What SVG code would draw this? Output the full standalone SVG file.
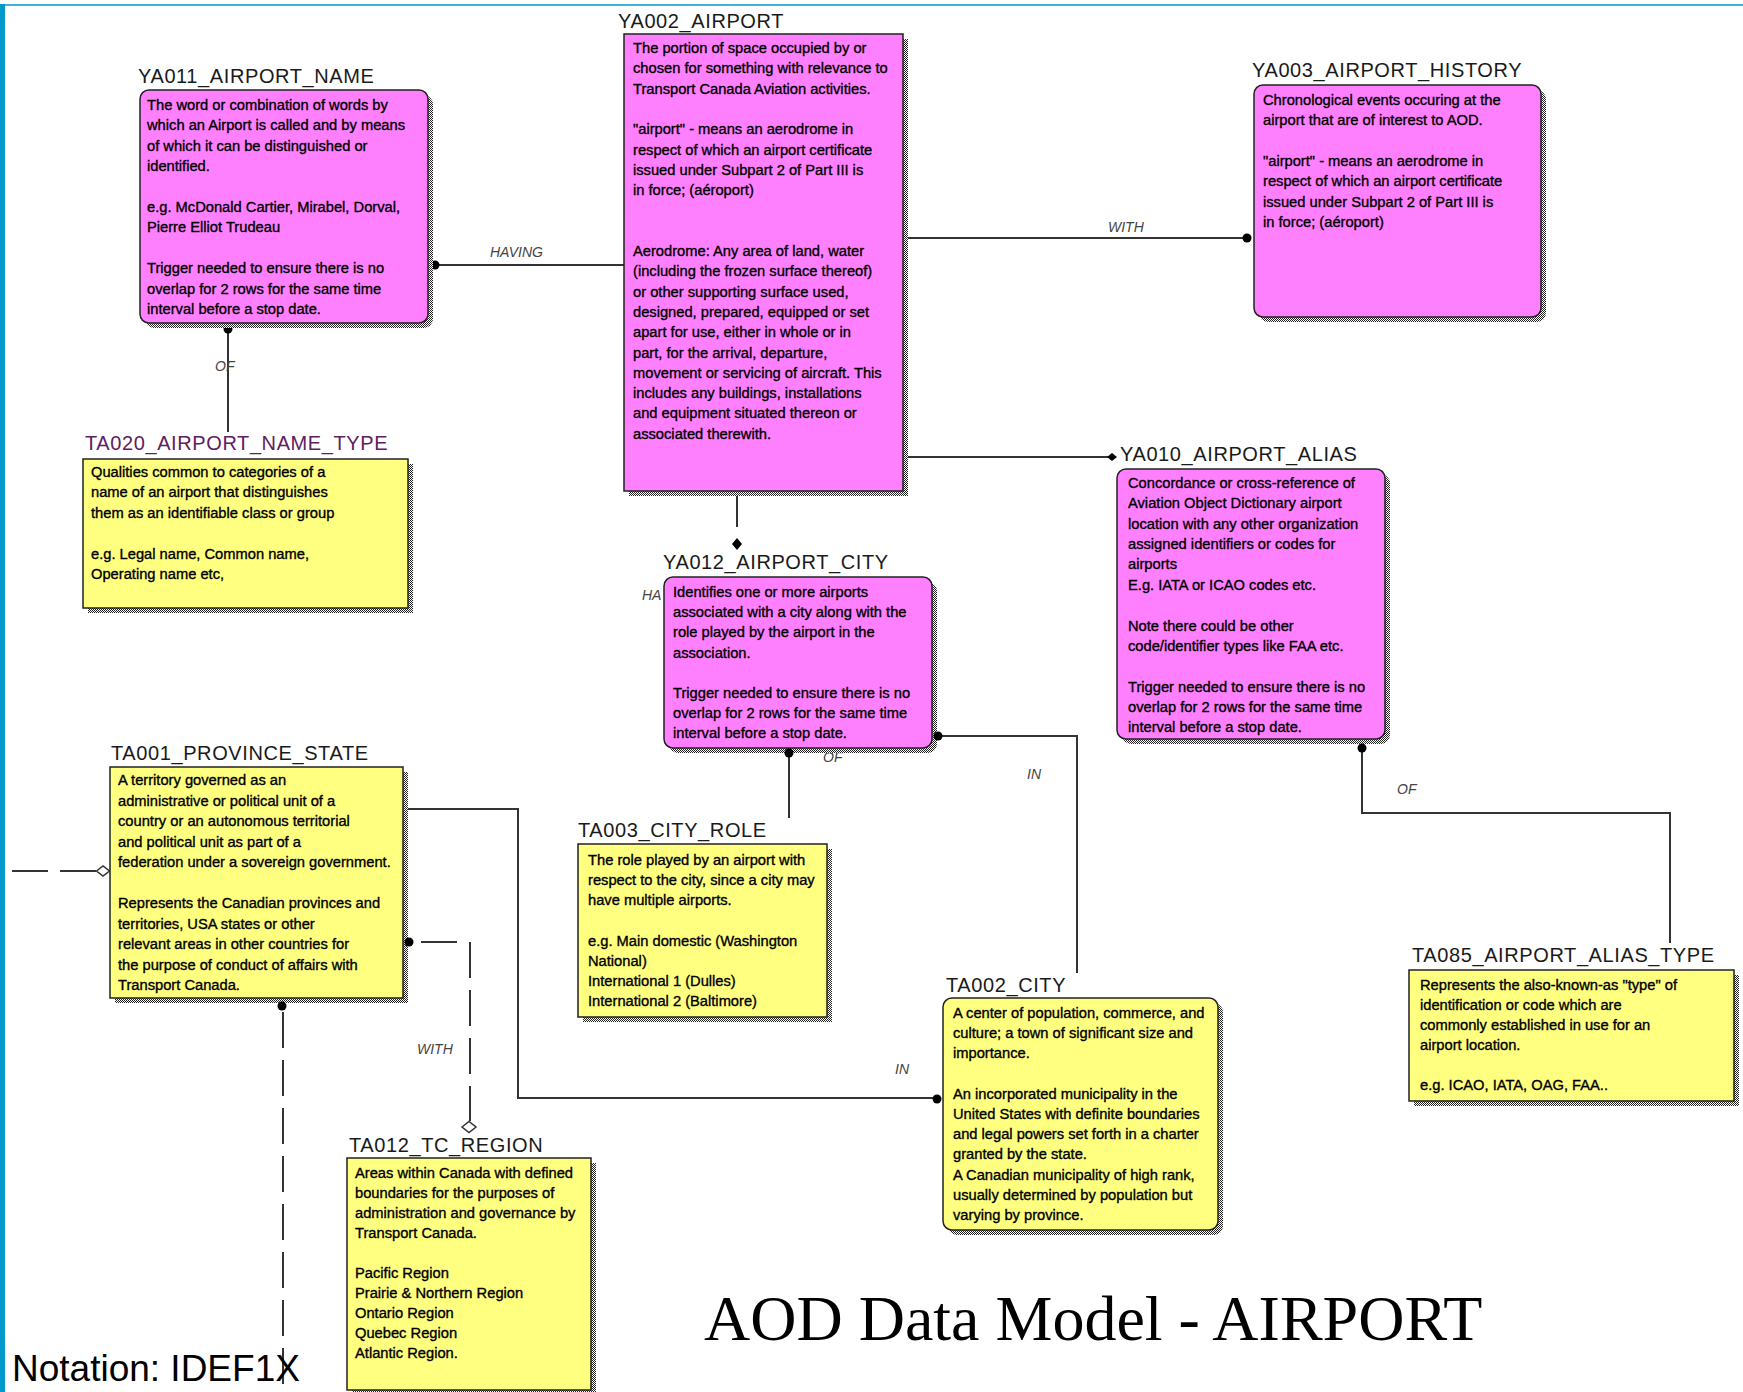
<svg xmlns="http://www.w3.org/2000/svg" width="1743" height="1392" viewBox="0 0 1743 1392">
<defs>
<pattern id="dither" width="2" height="2" patternUnits="userSpaceOnUse">
<rect width="2" height="2" fill="#ffffff"/>
<rect width="1" height="1" fill="#222"/>
<rect x="1" y="1" width="1" height="1" fill="#222"/>
</pattern>
<style>
.t{font-family:"Liberation Sans",Arial,sans-serif;font-size:14.7px;fill:#000;stroke:#000;stroke-width:0.35px}
.h{font-family:"Liberation Sans",Arial,sans-serif;font-size:20px;letter-spacing:0.6px;fill:#1a1a1a}
.hp{fill:#602060}
.l{font-family:"Liberation Sans",Arial,sans-serif;font-size:14px;font-style:italic;fill:#444}
.sh{fill:url(#dither)}
.mag{fill:#ff80ff;stroke:#222;stroke-width:1.5}
.yel{fill:#ffff80;stroke:#222;stroke-width:1.5}
.c{fill:none;stroke:#333;stroke-width:2}
.d{fill:none;stroke:#333;stroke-width:2;stroke-dasharray:36 12}
.dot{fill:#000}
.hol{fill:#fff;stroke:#333;stroke-width:1.5}
</style>
</defs>
<rect width="1743" height="1392" fill="#ffffff"/>
<line x1="0" y1="5" x2="1743" y2="5" stroke="#0099cc" stroke-width="1.5"/>
<rect x="0" y="4" width="5" height="1388" fill="#0099cc"/>

<g id="connectors">
<path class="c" d="M435 265 H624"/>
<circle class="dot" cx="435" cy="265" r="4.5"/>
<text class="l" x="490" y="257">HAVING</text>

<path class="c" d="M228 329 V432"/>
<circle class="dot" cx="228" cy="329" r="4.5"/>
<text class="l" x="215" y="371">OF</text>

<path class="c" d="M903 238 H1247"/>
<circle class="dot" cx="1247" cy="238" r="4.5"/>
<text class="l" x="1108" y="232">WITH</text>

<path class="c" d="M903 457 H1108"/>
<path class="dot" d="M1107 457 L1112 453 L1117 457 L1112 461 Z"/>

<path class="c" d="M737 491 V527"/>
<path class="dot" d="M732 544 L737 538 L742 544 L737 550 Z"/>
<text class="l" x="642" y="600">HA</text>

<path class="c" d="M789 753 V818"/>
<text class="l" x="823" y="762">OF</text>

<path class="c" d="M938 736 H1077 V973"/>
<text class="l" x="1027" y="779">IN</text>

<path class="c" d="M1362 748 V813 H1670 V943"/>
<text class="l" x="1397" y="794">OF</text>

<path class="c" d="M403 809 H518 V1098 H937"/>
<text class="l" x="895" y="1074">IN</text>

<path class="c" d="M421 942 H457"/>
<path class="d" d="M470 942 V1121"/>
<path class="hol" d="M462 1127 L469 1121.5 L476 1127 L469 1132.5 Z"/>
<text class="l" x="417" y="1054">WITH</text>

<path class="d" d="M12 871 H96"/>
<path class="hol" d="M96.5 871 L103 866 L109.5 871 L103 876 Z"/>

<path class="d" d="M283 1012 V1392"/>
</g>

<g id="YA011_AIRPORT_NAME">
<rect class="sh" x="145" y="95" width="288" height="233" rx="9"/>
<rect class="mag" x="140" y="90" width="288" height="233" rx="9"/>
<text class="h" x="138" y="83">YA011_AIRPORT_NAME</text>
<text class="t">
<tspan x="147" y="110">The word or combination of words by</tspan>
<tspan x="147" y="130.4">which an Airport is called and by means</tspan>
<tspan x="147" y="150.8">of which it can be distinguished or</tspan>
<tspan x="147" y="171.2">identified.</tspan>
<tspan x="147" y="212">e.g. McDonald Cartier, Mirabel, Dorval,</tspan>
<tspan x="147" y="232.4">Pierre Elliot Trudeau</tspan>
<tspan x="147" y="273.2">Trigger needed to ensure there is no</tspan>
<tspan x="147" y="293.6">overlap for 2 rows for the same time</tspan>
<tspan x="147" y="314">interval before a stop date.</tspan>
</text>
</g>

<g id="YA002_AIRPORT">
<rect class="sh" x="629" y="39" width="279" height="457"/>
<rect class="mag" x="624" y="34" width="279" height="457"/>
<text class="h" x="618" y="28">YA002_AIRPORT</text>
<text class="t">
<tspan x="633" y="53">The portion of space occupied by or</tspan>
<tspan x="633" y="73.3">chosen for something with relevance to</tspan>
<tspan x="633" y="93.6">Transport Canada Aviation activities.</tspan>
<tspan x="633" y="134.2">&quot;airport&quot; - means an aerodrome in</tspan>
<tspan x="633" y="154.5">respect of which an airport certificate</tspan>
<tspan x="633" y="174.8">issued under Subpart 2 of Part III is</tspan>
<tspan x="633" y="195.1">in force; (aéroport)</tspan>
<tspan x="633" y="256">Aerodrome: Any area of land, water</tspan>
<tspan x="633" y="276.3">(including the frozen surface thereof)</tspan>
<tspan x="633" y="296.6">or other supporting surface used,</tspan>
<tspan x="633" y="316.9">designed, prepared, equipped or set</tspan>
<tspan x="633" y="337.2">apart for use, either in whole or in</tspan>
<tspan x="633" y="357.5">part, for the arrival, departure,</tspan>
<tspan x="633" y="377.8">movement or servicing of aircraft. This</tspan>
<tspan x="633" y="398.1">includes any buildings, installations</tspan>
<tspan x="633" y="418.4">and equipment situated thereon or</tspan>
<tspan x="633" y="438.7">associated therewith.</tspan>
</text>
</g>

<g id="YA003_AIRPORT_HISTORY">
<rect class="sh" x="1259" y="90" width="287" height="232" rx="9"/>
<rect class="mag" x="1254" y="85" width="287" height="232" rx="9"/>
<text class="h" x="1252" y="77">YA003_AIRPORT_HISTORY</text>
<text class="t">
<tspan x="1263" y="105">Chronological events occuring at the</tspan>
<tspan x="1263" y="125.3">airport that are of interest to AOD.</tspan>
<tspan x="1263" y="165.9">&quot;airport&quot; - means an aerodrome in</tspan>
<tspan x="1263" y="186.2">respect of which an airport certificate</tspan>
<tspan x="1263" y="206.5">issued under Subpart 2 of Part III is</tspan>
<tspan x="1263" y="226.8">in force; (aéroport)</tspan>
</text>
</g>

<g id="TA020_AIRPORT_NAME_TYPE">
<rect class="sh" x="88" y="464" width="325" height="149"/>
<rect class="yel" x="83" y="459" width="325" height="149"/>
<text class="h hp" x="85" y="450">TA020_AIRPORT_NAME_TYPE</text>
<text class="t">
<tspan x="91" y="477">Qualities common to categories of a</tspan>
<tspan x="91" y="497.3">name of an airport that distinguishes</tspan>
<tspan x="91" y="517.6">them as an identifiable class or group</tspan>
<tspan x="91" y="559">e.g. Legal name, Common name,</tspan>
<tspan x="91" y="579">Operating name etc,</tspan>
</text>
</g>

<g id="YA012_AIRPORT_CITY">
<rect class="sh" x="669" y="582" width="268" height="171" rx="9"/>
<rect class="mag" x="664" y="577" width="268" height="171" rx="9"/>
<text class="h" x="663" y="569">YA012_AIRPORT_CITY</text>
<text class="t">
<tspan x="673" y="597">Identifies one or more airports</tspan>
<tspan x="673" y="617.2">associated with a city along with the</tspan>
<tspan x="673" y="637.4">role played by the airport in the</tspan>
<tspan x="673" y="657.6">association.</tspan>
<tspan x="673" y="698">Trigger needed to ensure there is no</tspan>
<tspan x="673" y="718.2">overlap for 2 rows for the same time</tspan>
<tspan x="673" y="738.4">interval before a stop date.</tspan>
</text>
</g>

<g id="YA010_AIRPORT_ALIAS">
<rect class="sh" x="1122" y="474" width="268" height="270" rx="9"/>
<rect class="mag" x="1117" y="469" width="268" height="270" rx="9"/>
<text class="h" x="1120" y="461">YA010_AIRPORT_ALIAS</text>
<text class="t">
<tspan x="1128" y="488">Concordance or cross-reference of</tspan>
<tspan x="1128" y="508.4">Aviation Object Dictionary airport</tspan>
<tspan x="1128" y="528.7">location with any other organization</tspan>
<tspan x="1128" y="549">assigned identifiers or codes for</tspan>
<tspan x="1128" y="569.4">airports</tspan>
<tspan x="1128" y="589.8">E.g. IATA or  ICAO codes etc.</tspan>
<tspan x="1128" y="630.5">Note there could be other</tspan>
<tspan x="1128" y="650.8">code/identifier types like FAA etc.</tspan>
<tspan x="1128" y="691.5">Trigger needed to ensure there is no</tspan>
<tspan x="1128" y="711.9">overlap for 2 rows for the same time</tspan>
<tspan x="1128" y="732.2">interval before a stop date.</tspan>
</text>
</g>

<g id="TA001_PROVINCE_STATE">
<rect class="sh" x="115" y="772" width="293" height="231"/>
<rect class="yel" x="110" y="767" width="293" height="231"/>
<text class="h" x="111" y="760">TA001_PROVINCE_STATE</text>
<text class="t">
<tspan x="118" y="785">A territory governed as an</tspan>
<tspan x="118" y="805.5">administrative or political unit of a</tspan>
<tspan x="118" y="826">country or an autonomous territorial</tspan>
<tspan x="118" y="846.5">and political unit as part of a</tspan>
<tspan x="118" y="867">federation under a sovereign government.</tspan>
<tspan x="118" y="908">Represents the Canadian provinces and</tspan>
<tspan x="118" y="928.5">territories, USA states or other</tspan>
<tspan x="118" y="949">relevant areas in other countries for</tspan>
<tspan x="118" y="969.5">the purpose of conduct of affairs with</tspan>
<tspan x="118" y="990">Transport Canada.</tspan>
</text>
</g>
<circle class="dot" cx="409" cy="942" r="4.5"/>
<circle class="dot" cx="282" cy="1006" r="4.5"/>
<circle class="dot" cx="789" cy="753" r="4.5"/>
<circle class="dot" cx="938" cy="736" r="4.5"/>
<circle class="dot" cx="1362" cy="748" r="4.5"/>

<g id="TA003_CITY_ROLE">
<rect class="sh" x="583" y="849" width="249" height="173"/>
<rect class="yel" x="578" y="844" width="249" height="173"/>
<text class="h" x="578" y="837">TA003_CITY_ROLE</text>
<text class="t">
<tspan x="588" y="865">The role played by an airport with</tspan>
<tspan x="588" y="885.2">respect to the city, since a city may</tspan>
<tspan x="588" y="905.4">have multiple airports.</tspan>
<tspan x="588" y="945.8">e.g. Main domestic (Washington</tspan>
<tspan x="588" y="966">National)</tspan>
<tspan x="588" y="986.2">International 1 (Dulles)</tspan>
<tspan x="588" y="1006.4">International 2 (Baltimore)</tspan>
</text>
</g>

<g id="TA002_CITY">
<rect class="sh" x="948" y="1003" width="275" height="232" rx="9"/>
<rect class="yel" x="943" y="998" width="275" height="232" rx="9"/>
<text class="h" x="946" y="992">TA002_CITY</text>
<text class="t">
<tspan x="953" y="1018">A center of population, commerce, and</tspan>
<tspan x="953" y="1038.2">culture; a town of significant size and</tspan>
<tspan x="953" y="1058.4">importance.</tspan>
<tspan x="953" y="1098.8">An incorporated municipality in the</tspan>
<tspan x="953" y="1119">United States with definite boundaries</tspan>
<tspan x="953" y="1139.2">and legal powers set forth in a charter</tspan>
<tspan x="953" y="1159.4">granted by the state.</tspan>
<tspan x="953" y="1179.6">A Canadian municipality of high rank,</tspan>
<tspan x="953" y="1199.8">usually determined by population but</tspan>
<tspan x="953" y="1220">varying by province.</tspan>
</text>
</g>
<circle class="dot" cx="937" cy="1099" r="4.5"/>

<g id="TA085_AIRPORT_ALIAS_TYPE">
<rect class="sh" x="1414" y="975" width="325" height="131"/>
<rect class="yel" x="1409" y="970" width="325" height="131"/>
<text class="h" x="1412" y="962">TA085_AIRPORT_ALIAS_TYPE</text>
<text class="t">
<tspan x="1420" y="990">Represents the also-known-as &quot;type&quot; of</tspan>
<tspan x="1420" y="1010">identification or code which are</tspan>
<tspan x="1420" y="1030">commonly established in use for an</tspan>
<tspan x="1420" y="1050">airport location.</tspan>
<tspan x="1420" y="1090">e.g. ICAO, IATA, OAG, FAA..</tspan>
</text>
</g>

<g id="TA012_TC_REGION">
<rect class="sh" x="352" y="1163" width="244" height="232"/>
<rect class="yel" x="347" y="1158" width="244" height="232"/>
<text class="h" x="349" y="1152">TA012_TC_REGION</text>
<text class="t">
<tspan x="355" y="1178">Areas within Canada with defined</tspan>
<tspan x="355" y="1198">boundaries for the purposes of</tspan>
<tspan x="355" y="1218">administration and governance by</tspan>
<tspan x="355" y="1238">Transport Canada.</tspan>
<tspan x="355" y="1278">Pacific Region</tspan>
<tspan x="355" y="1298">Prairie &amp; Northern Region</tspan>
<tspan x="355" y="1318">Ontario Region</tspan>
<tspan x="355" y="1338">Quebec Region</tspan>
<tspan x="355" y="1358">Atlantic Region.</tspan>
</text>
</g>

<text x="704" y="1340" font-family="'Liberation Serif','Times New Roman',serif" font-size="64" fill="#000">AOD Data Model - AIRPORT</text>
<text x="12" y="1381" font-family="'Liberation Sans',Arial,sans-serif" font-size="37" fill="#000">Notation: IDEF1X</text>
</svg>
